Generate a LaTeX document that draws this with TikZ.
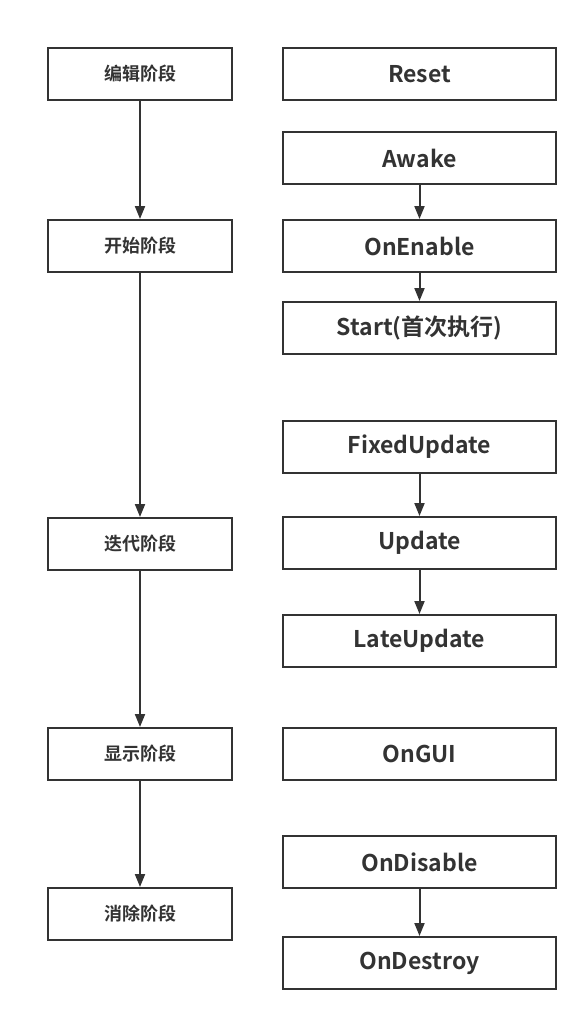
\documentclass[tikz,border=0pt]{standalone}
\usepackage{fontspec}
\setmainfont{Noto Sans CJK SC}[BoldFont={Noto Sans CJK SC Bold}]
\usetikzlibrary{arrows.meta}
\definecolor{ink}{HTML}{333333}

\begin{document}
\begin{tikzpicture}[x=1pt,y=-1pt,
		phase/.style={draw=ink,line width=2pt,text=ink,minimum width=184pt,minimum height=52pt,font=\fontsize{18}{21}\selectfont\bfseries},
		event/.style={draw=ink,line width=2pt,text=ink,minimum width=273pt,minimum height=52pt,font=\fontsize{23}{27}\selectfont\bfseries},
		flow/.style={draw=ink,line width=2pt,-{Triangle[length=13pt,width=10pt]}}]
	\useasboundingbox (0,0) rectangle (588,1020);
	% phases
	\node[phase] (edit) at (140,74) {编辑阶段};
	\node[phase] (begin) at (140,246) {开始阶段};
	\node[phase] (iter) at (140,544) {迭代阶段};
	\node[phase] (show) at (140,754) {显示阶段};
	\node[phase] (kill) at (140,914) {消除阶段};
	% events
	\node[event] (reset) at (419.5,74) {Reset};
	\node[event] (awake) at (419.5,158) {Awake};
	\node[event] (enable) at (419.5,246) {OnEnable};
	\node[event] (start) at (419.5,328) {Start(首次执行)};
	\node[event] (fixed) at (419.5,447) {FixedUpdate};
	\node[event] (update) at (419.5,543) {Update};
	\node[event] (late) at (419.5,641) {LateUpdate};
	\node[event] (gui) at (419.5,754) {OnGUI};
	\node[event] (disable) at (419.5,862) {OnDisable};
	\node[event] (destroy) at (419.5,963) {OnDestroy};
	% arrows
	\draw[flow] (edit) -- (begin);
	\draw[flow] (begin) -- (iter);
	\draw[flow] (iter) -- (show);
	\draw[flow] (show) -- (kill);
	\draw[flow] (awake) -- (enable);
	\draw[flow] (enable) -- (start);
	\draw[flow] (fixed) -- (update);
	\draw[flow] (update) -- (late);
	\draw[flow] (disable) -- (destroy);
\end{tikzpicture}
\end{document}
